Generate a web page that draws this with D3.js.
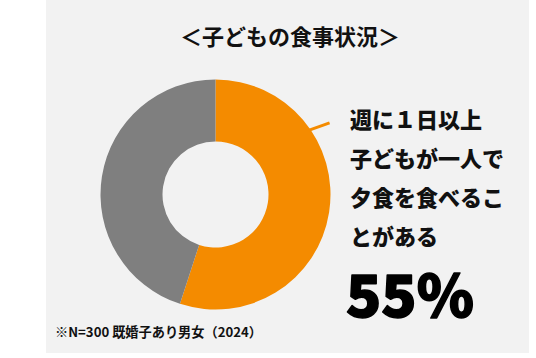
<!DOCTYPE html>
<html><head><meta charset="utf-8">
<script src="https://cdn.jsdelivr.net/npm/d3@7"></script>
<style>html,body{margin:0;padding:0;background:#fff;}svg{display:block;}</style>
</head><body>
<svg id="c" width="536" height="358"></svg>
<script>
const title = "＜子どもの食事状況＞";
const categories = ["週に1日以上子どもが一人で夕食を食べることがある", "その他"];
const values = [55, 45];
const colors = ["#F48B00", "#7F7F7F"];
const labelLines = ["週に１日以上", "子どもが一人で", "夕食を食べるこ", "とがある"];
const percentLabel = "55%";
const footnote = "※N=300 既婚子あり男女（2024）";

const svg = d3.select("#c");
const font = "'Noto Sans CJK JP', 'Noto Sans', sans-serif";

svg.append("rect").attr("x", 46).attr("y", 0).attr("width", 483).attr("height", 353).attr("fill", "#f2f2f2");

svg.append("text").attr("x", 290).attr("y", 45).attr("text-anchor", "middle")
  .attr("font-family", font).attr("font-weight", 700).attr("font-size", 22).attr("fill", "#111")
  .text(title);

const cx = 215.5, cy = 194.5, rOuter = 115, rInner = 53;
const g = svg.append("g").attr("transform", `translate(${cx},${cy})`);
const pie = d3.pie().sort(null).value(d => d)(values);
const arc = d3.arc().innerRadius(rInner).outerRadius(rOuter);
g.selectAll("path").data(pie).join("path")
  .attr("d", arc).attr("fill", (d, i) => colors[i]);

// leader line from the orange slice
const a0 = pie[0].startAngle + (pie[0].endAngle - pie[0].startAngle) * 0.28;
const r0 = rOuter - 2;
const p1 = [Math.sin(a0) * r0, -Math.cos(a0) * r0];
const p2 = [p1[0] + 21, p1[1] - 7.5];
g.append("line").attr("x1", p1[0]).attr("y1", p1[1]).attr("x2", p2[0]).attr("y2", p2[1])
  .attr("stroke", colors[0]).attr("stroke-width", 3);

const lbl = svg.append("text").attr("font-family", font).attr("font-weight", 900)
  .attr("font-size", 22).attr("fill", "#111");
labelLines.forEach((t, i) => {
  lbl.append("tspan").attr("x", 350).attr("y", 128 + i * 39).text(t);
});

svg.append("text").attr("x", 346).attr("y", 317)
  .attr("font-family", "'Noto Sans CJK JP', 'DejaVu Sans', sans-serif").attr("font-weight", 900)
  .attr("font-size", 58).attr("fill", "#000")
  .attr("stroke", "#000").attr("stroke-width", 1.5).attr("stroke-linejoin", "round")
  .text(percentLabel);

svg.append("text").attr("x", 55).attr("y", 337)
  .attr("font-family", font).attr("font-weight", 700).attr("font-size", 13.2).attr("fill", "#111")
  .text(footnote);
</script>
</body></html>
